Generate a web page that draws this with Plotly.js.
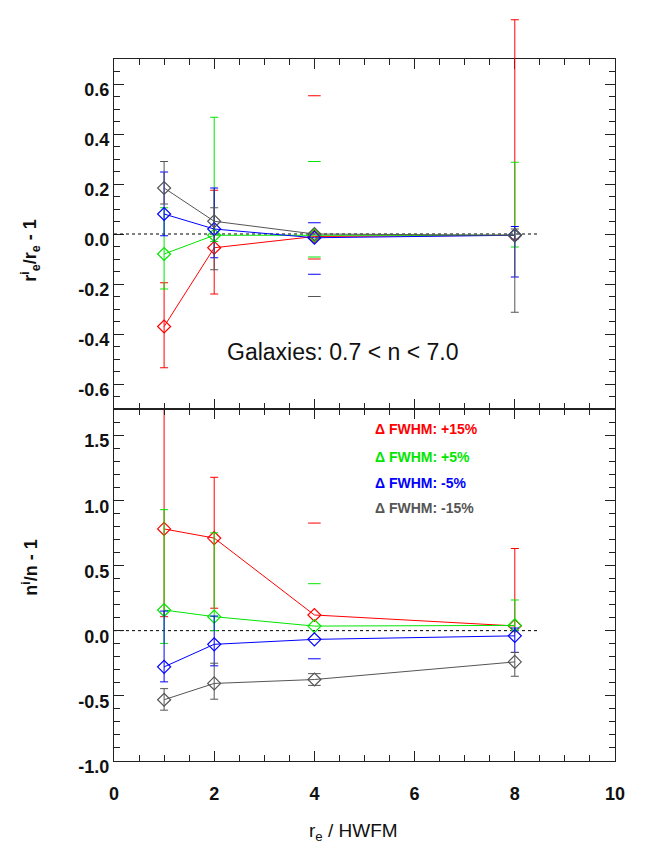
<!DOCTYPE html>
<html>
<head>
<meta charset="utf-8">
<script src="https://cdn.plot.ly/plotly-3.0.1.min.js"></script>
<style>html,body{margin:0;padding:0;background:#fff;}</style>
</head>
<body>
<div id="chart" style="width:664px;height:859px;"></div>
<script>
// ---------------- data ----------------
const xVals = [1, 2, 4, 8];
const zeroLineX = [0, 8.5];
const zeroLineY = [0, 0];

// top panel: r_e^i / r_e - 1 (value, upper end of error bar, lower end)
const reRed     = [-0.37, -0.055, -0.010, -0.005];
const reRedHi   = [-0.195, 0.175, 0.553, 0.857];
const reRedLo   = [-0.535, -0.240, -0.100, -0.020];
const reGreen   = [-0.080, -0.005, -0.005, -0.005];
const reGreenHi = [0.105, 0.467, 0.290, 0.287];
const reGreenLo = [-0.220, -0.030, -0.092, -0.052];
const reBlue    = [0.080, 0.020, -0.015, -0.005];
const reBlueHi  = [0.248, 0.184, 0.045, 0.030];
const reBlueLo  = [-0.007, -0.095, -0.161, -0.172];
const reGray    = [0.184, 0.051, 0.000, -0.005];
const reGrayHi  = [0.290, 0.105, null, 0.020];
const reGrayLo  = [0.120, -0.143, -0.250, -0.313];

// bottom panel: n^i / n - 1
const nRed     = [0.780, 0.710, 0.120, 0.036];
const nRedHi   = [1.727, 1.176, 0.825, 0.630];
const nRedLo   = [0.107, 0.172, null, 0.000];
const nGreen   = [0.158, 0.107, 0.035, 0.040];
const nGreenHi = [0.928, 0.750, 0.360, 0.235];
const nGreenLo = [-0.098, 0.000, null, 0.000];
const nBlue    = [-0.278, -0.105, -0.067, -0.040];
const nBlueHi  = [0.150, 0.112, null, 0.020];
const nBlueLo  = [-0.393, -0.270, -0.216, -0.167];
const nGray    = [-0.530, -0.405, -0.375, -0.240];
const nGrayHi  = [-0.445, -0.250, -0.330, -0.167];
const nGrayLo  = [-0.610, -0.526, -0.420, -0.350];

// series labels
const seriesLabels = ['\u0394 FWHM: +15%', '\u0394 FWHM: +5%', '\u0394 FWHM: -5%', '\u0394 FWHM: -15%'];
const annotationText = 'Galaxies: 0.7 < n < 7.0';
const xTitle = 'r<sub>e</sub> / HWFM';
const yTitleTop = 'r<sup>i</sup><sub>e</sub>/r<sub>e</sub> - 1';
const yTitleBottom = 'n<sup>i</sup>/n - 1';

// tick labels
const xTickVals = [0, 2, 4, 6, 8, 10];
const xTickText = ['0', '2', '4', '6', '8', '10'];
const topTickVals = [-0.6, -0.4, -0.2, 0, 0.2, 0.4, 0.6];
const topTickText = ['-0.6', '-0.4', '-0.2', '0.0', '0.2', '0.4', '0.6'];
const botTickVals = [-1.0, -0.5, 0, 0.5, 1.0, 1.5];
const botTickText = ['-1.0', '-0.5', '0.0', '0.5', '1.0', '1.5'];

// index of the point drawn with caps only (no vertical bar)
const capsOnlyIndex = 2;

// ---------------- styles / geometry ----------------
const colors = ['#ff0000', '#00e600', '#0000ff', '#555555'];
const FONT = 'Liberation Sans, Arial, Helvetica, sans-serif';
const PLOT_TOP = 15, PLOT_BOTTOM = 761, FRAME_TOP = 59, SPLIT_PX = 409;
const H = PLOT_BOTTOM - PLOT_TOP;
const fy = px => (PLOT_BOTTOM - px) / H;       // pixel row -> paper fraction
const topPxPerUnit = (SPLIT_PX - FRAME_TOP) / 1.4;

function buildSeries(vals, his, los, color, xa, ya) {
  const plus = [], minus = [];
  for (let i = 0; i < vals.length; i++) {
    if (i === capsOnlyIndex) { plus.push(NaN); minus.push(NaN); continue; }
    plus.push(his[i] === null ? 0 : his[i] - vals[i]);
    minus.push(los[i] === null ? 0 : vals[i] - los[i]);
  }
  const capX = [], capY = [];
  if (his[capsOnlyIndex] !== null) { capX.push(xVals[capsOnlyIndex]); capY.push(his[capsOnlyIndex]); }
  if (los[capsOnlyIndex] !== null) { capX.push(xVals[capsOnlyIndex]); capY.push(los[capsOnlyIndex]); }
  return [
    {
      x: capX, y: capY, xaxis: xa, yaxis: ya, type: 'scatter', mode: 'markers',
      marker: {symbol: 'line-ew-open', size: 9, color: color, line: {color: color, width: 1}},
      hoverinfo: 'skip', showlegend: false, cliponaxis: false
    },
    {
      x: xVals, y: vals, xaxis: xa, yaxis: ya, type: 'scatter', mode: 'lines+markers',
      line: {color: color, width: 1},
      marker: {symbol: 'diamond-open', size: 10, color: color, line: {color: color, width: 1.2}},
      error_y: {type: 'data', symmetric: false, array: plus, arrayminus: minus,
                color: color, thickness: 1, width: 4},
      showlegend: false, cliponaxis: false
    }
  ];
}

// the top panel's data are drawn on an invisible axis (y3) with the same scale as
// the visible y2 axis but a taller domain, so the +15% error bar can run above the frame
const traces = [];
traces.push({x: zeroLineX, y: zeroLineY, xaxis: 'x2', yaxis: 'y3', mode: 'lines',
  line: {color: '#000', width: 1, dash: 'dot'}, showlegend: false, hoverinfo: 'skip'});
traces.push({x: zeroLineX, y: zeroLineY, xaxis: 'x', yaxis: 'y', mode: 'lines',
  line: {color: '#000', width: 1, dash: 'dot'}, showlegend: false, hoverinfo: 'skip'});

const topSets = [[reRed, reRedHi, reRedLo], [reGreen, reGreenHi, reGreenLo], [reBlue, reBlueHi, reBlueLo], [reGray, reGrayHi, reGrayLo]];
const botSets = [[nRed, nRedHi, nRedLo], [nGreen, nGreenHi, nGreenLo], [nBlue, nBlueHi, nBlueLo], [nGray, nGrayHi, nGrayLo]];
topSets.forEach((s, i) => traces.push(...buildSeries(s[0], s[1], s[2], colors[i], 'x2', 'y3')));
botSets.forEach((s, i) => traces.push(...buildSeries(s[0], s[1], s[2], colors[i], 'x', 'y')));

const axisCommon = {
  showline: true, linecolor: '#222', linewidth: 1, mirror: 'ticks',
  ticks: 'inside', ticklen: 10, tickwidth: 1, tickcolor: '#222',
  showgrid: false, zeroline: false,
  tickfont: {family: FONT, size: 18, color: '#111', weight: 'bold'}
};
const minorX = {dtick: 0.5, ticks: 'inside', ticklen: 6, tickcolor: '#222', tickwidth: 1};

const legendY = [1.543, 1.335, 1.135, 0.943];
const annotations = seriesLabels.map((t, i) => ({
  text: t, xref: 'x', yref: 'y', x: 5.17, y: legendY[i], xanchor: 'left', yanchor: 'middle',
  showarrow: false, font: {family: FONT, size: 14, color: colors[i], weight: 'bold'}
}));
annotations.push({
  text: annotationText, xref: 'x2', yref: 'y2', x: 4.57, y: -0.47, xanchor: 'center', yanchor: 'middle',
  showarrow: false, font: {family: FONT, size: 23, color: '#111'}
});
annotations.push({
  text: yTitleTop, xref: 'paper', yref: 'paper',
  x: -0.168, y: fy(250), xanchor: 'center', yanchor: 'middle', textangle: -90,
  showarrow: false, font: {family: FONT, size: 18, color: '#111', weight: 'bold'}
});
annotations.push({
  text: yTitleBottom, xref: 'paper', yref: 'paper',
  x: -0.168, y: fy(567), xanchor: 'center', yanchor: 'middle', textangle: -90,
  showarrow: false, font: {family: FONT, size: 18, color: '#111', weight: 'bold'}
});
annotations.push({
  text: xTitle, xref: 'paper', yref: 'paper',
  x: (353 - 114) / 501, y: fy(832), xanchor: 'center', yanchor: 'middle',
  showarrow: false, font: {family: FONT, size: 19, color: '#111'}
});

const layout = {
  width: 664, height: 859,
  margin: {l: 114, r: 49, t: PLOT_TOP, b: 859 - PLOT_BOTTOM},
  paper_bgcolor: '#fff', plot_bgcolor: 'rgba(0,0,0,0)',
  showlegend: false,
  xaxis: Object.assign({}, axisCommon, {
    anchor: 'y', range: [0, 10], tickvals: xTickVals, ticktext: xTickText,
    minor: minorX, ticklabelstandoff: 16
  }),
  xaxis2: Object.assign({}, axisCommon, {
    anchor: 'y2', range: [0, 10], matches: 'x', tickvals: xTickVals, showticklabels: false,
    minor: minorX
  }),
  yaxis: Object.assign({}, axisCommon, {
    anchor: 'x', domain: [0, fy(SPLIT_PX)], range: [-1.0, 1.7],
    tickvals: botTickVals, ticktext: botTickText, ticklabelshift: 6,
    minor: {dtick: 0.1, ticks: 'inside', ticklen: 6, tickcolor: '#222', tickwidth: 1}
  }),
  yaxis2: Object.assign({}, axisCommon, {
    anchor: 'x2', domain: [fy(SPLIT_PX), fy(FRAME_TOP)], range: [-0.7, 0.7],
    tickvals: topTickVals, ticktext: topTickText, ticklabelshift: 6,
    minor: {dtick: 0.05, ticks: 'inside', ticklen: 6, tickcolor: '#222', tickwidth: 1}
  }),
  yaxis3: {
    anchor: 'x2', domain: [fy(SPLIT_PX), 1], range: [-0.7, 0.7 + (FRAME_TOP - PLOT_TOP) / topPxPerUnit],
    visible: false, showgrid: false, zeroline: false
  },
  annotations: annotations
};

Plotly.newPlot('chart', traces, layout, {staticPlot: true, displayModeBar: false});
</script>
</body>
</html>
